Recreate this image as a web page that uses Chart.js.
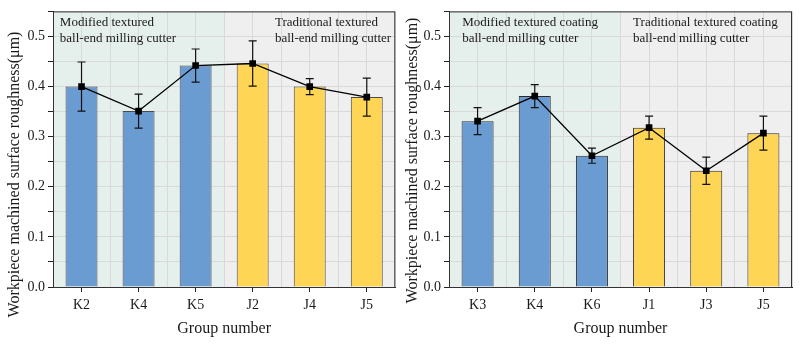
<!DOCTYPE html>
<html>
<head>
<meta charset="utf-8">
<script src="https://cdn.jsdelivr.net/npm/chart.js@4"></script>
<style>
    html, body { margin: 0; padding: 0; background: #ffffff; }
    .wrap { display: flex; width: 800px; height: 345px; }
    .panel { width: 400px; height: 345px; }
</style>
</head>
<body>
<div class="wrap">
    <div class="panel"><canvas id="left-chart" width="400" height="345"></canvas></div>
    <div class="panel"><canvas id="right-chart" width="400" height="345"></canvas></div>
</div>
<script>
// ==========================================
// DATA
// ==========================================
const leftGroups    = ['K2', 'K4', 'K5', 'J2', 'J4', 'J5'];
const leftRoughness = [0.400, 0.351, 0.442, 0.446, 0.400, 0.379];
const leftError     = [0.049, 0.034, 0.033, 0.045, 0.016, 0.038];

const rightGroups    = ['K3', 'K4', 'K6', 'J1', 'J3', 'J5'];
const rightRoughness = [0.331, 0.381, 0.262, 0.318, 0.232, 0.307];
const rightError     = [0.027, 0.023, 0.015, 0.023, 0.027, 0.034];

// first 3 groups are the modified cutters, the rest traditional
const modifiedCount = 3;

const SERIF = '"Liberation Serif", "Times New Roman", serif';
const TEXT  = '#1a1a1a';
const GRID  = '#d9d9d9';

// ==========================================
// PLUGINS
// ==========================================
const panelPlugin = {
    id: 'panel',
    beforeDraw(chart, args, opts) {
        const { ctx, chartArea: a } = chart;
        const split = chart.scales.xg.getPixelForValue(opts.split - 0.5);
        ctx.save();
        ctx.fillStyle = '#e5efeb';
        ctx.fillRect(a.left, a.top, split - a.left, a.bottom - a.top);
        ctx.fillStyle = '#efefef';
        ctx.fillRect(split, a.top, a.right - split, a.bottom - a.top);
        ctx.restore();
    },
    afterDatasetDraw(chart, args, opts) {
        if (args.meta.type !== 'bar') return;
        const { ctx } = chart;
        const y = chart.scales.y;
        const vals = chart.data.datasets[args.index].data;
        ctx.save();
        ctx.strokeStyle = '#111';
        ctx.lineWidth = 1.2;
        args.meta.data.forEach((bar, i) => {
            const e = opts.errors[i];
            const hi = y.getPixelForValue(vals[i] + e);
            const lo = y.getPixelForValue(vals[i] - e);
            ctx.beginPath();
            ctx.moveTo(bar.x, hi); ctx.lineTo(bar.x, lo);
            ctx.moveTo(bar.x - 4, hi); ctx.lineTo(bar.x + 4, hi);
            ctx.moveTo(bar.x - 4, lo); ctx.lineTo(bar.x + 4, lo);
            ctx.stroke();
        });
        ctx.restore();
    },
    afterDraw(chart, args, opts) {
        const { ctx, chartArea: a } = chart;
        ctx.save();
        // plot frame
        ctx.strokeStyle = '#333';
        ctx.lineWidth = 1;
        ctx.strokeRect(a.left + 0.5, a.top + 0.5, a.right - a.left - 1, a.bottom - a.top);

        // region labels
        ctx.fillStyle = TEXT;
        ctx.font = '13px ' + SERIF;
        ctx.textAlign = 'left';
        ctx.textBaseline = 'middle';
        opts.notes.forEach(n => {
            const x = chart.scales.xg.getPixelForValue(n.at);
            n.lines.forEach((t, k) => ctx.fillText(t, x, a.top + 11.5 + k * 16));
        });

        // y axis title
        ctx.font = '16px ' + SERIF;
        ctx.textAlign = 'center';
        ctx.translate(opts.titleX, opts.titleY);
        ctx.rotate(-Math.PI / 2);
        ctx.fillText('Workpiece machined surface roughness(\u03bcm)', 0, 0);
        ctx.restore();
    }
};

// ==========================================
// BUILD ONE PANEL
// ==========================================
function makeChart(canvasId, groups, values, errors, layout) {
    const colors = groups.map((g, i) => i < modifiedCount ? '#6a9bd1' : '#ffd556');

    return new Chart(document.getElementById(canvasId), {
        type: 'bar',
        data: {
            labels: groups,
            datasets: [{
                type: 'line',
                data: values,
                borderColor: '#000',
                borderWidth: 1.3,
                pointStyle: 'rect',
                pointRadius: 4.7,
                pointBackgroundColor: '#000',
                pointBorderWidth: 0,
                fill: false,
                tension: 0,
                order: 0
            }, {
                type: 'bar',
                data: values,
                backgroundColor: colors,
                borderColor: layout.barBorder,
                borderWidth: 1,
                barPercentage: 0.56,
                categoryPercentage: 1.0,
                order: 1
            }]
        },
        options: {
            responsive: false,
            animation: false,
            layout: { padding: { left: 0, right: layout.padRight, top: layout.padTop, bottom: 0 } },
            plugins: {
                legend: { display: false },
                tooltip: { enabled: false },
                panel: {
                    split: modifiedCount,
                    errors: errors,
                    notes: layout.notes,
                    titleX: layout.titleX,
                    titleY: layout.titleY
                }
            },
            scales: {
                x: {
                    type: 'category',
                    offset: true,
                    afterFit: s => { s.height = 58; },
                    grid: { offset: false, drawOnChartArea: false, tickLength: 5, tickColor: '#222' },
                    border: { color: '#222' },
                    ticks: { color: TEXT, padding: 5, font: { family: SERIF, size: 14 } },
                    title: {
                        display: true,
                        text: 'Group number',
                        color: TEXT,
                        font: { family: SERIF, size: 16 },
                        padding: { top: 0, bottom: 7 }
                    }
                },
                // helper axis: vertical grid every half group
                xg: {
                    type: 'linear',
                    position: 'bottom',
                    offset: false,
                    min: -0.5,
                    max: groups.length - 0.5,
                    afterFit: s => { s.height = 0; },
                    ticks: { display: false, stepSize: 0.5 },
                    grid: { color: GRID, drawTicks: false, offset: false },
                    border: { display: false }
                },
                y: {
                    min: 0,
                    max: 0.55,
                    afterFit: s => { s.width = layout.yWidth; },
                    ticks: {
                        stepSize: 0.05,
                        color: TEXT,
                        padding: 3,
                        font: { family: SERIF, size: 14 },
                        callback: v => Math.abs(v * 10 - Math.round(v * 10)) < 1e-6 ? v.toFixed(1) : ''
                    },
                    grid: { color: GRID, tickColor: '#222', tickLength: 5 },
                    border: { color: '#222' }
                }
            }
        },
        plugins: [panelPlugin]
    });
}

makeChart('left-chart', leftGroups, leftRoughness, leftError, {
    yWidth: 53, padRight: 3, padTop: 10, barBorder: '#4a4a4a',
    titleX: 15, titleY: 174.5,
    notes: [
        { at: -0.38, lines: ['Modified textured', 'ball-end milling cutter'] },
        { at: 3.39,  lines: ['Traditional textured', 'ball-end milling cutter'] }
    ]
});

makeChart('right-chart', rightGroups, rightRoughness, rightError, {
    yWidth: 49, padRight: 8, padTop: 8, barBorder: '#2a2a2a',
    titleX: 13, titleY: 160.5,
    notes: [
        { at: -0.27, lines: ['Modified textured coating', 'ball-end milling cutter'] },
        { at: 2.72,  lines: ['Traditional textured coating', 'ball-end milling cutter'] }
    ]
});
</script>
</body>
</html>
